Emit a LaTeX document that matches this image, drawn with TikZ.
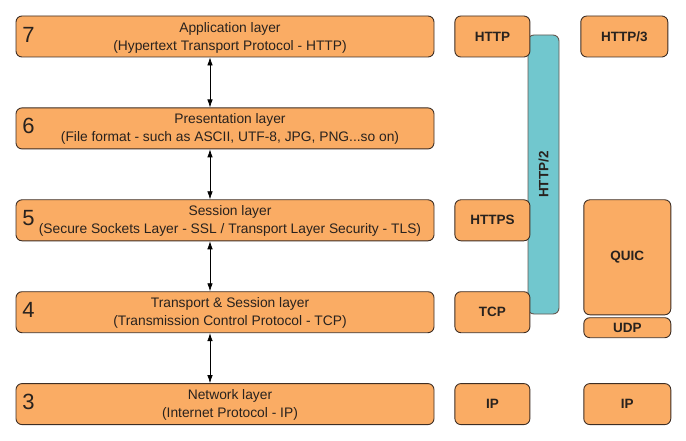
\documentclass[tikz,border=0pt]{standalone}
\usepackage{fontspec}
\setmainfont{Liberation Sans}
\usetikzlibrary{positioning, arrows.meta}
\definecolor{boxorange}{RGB}{250,172,100}
\definecolor{barteal}{RGB}{113,199,206}
\definecolor{boxedge}{RGB}{62,46,36}
\definecolor{textgray}{RGB}{40,34,30}
\begin{document}
\begin{tikzpicture}[x=1pt, y=1pt,
        layer/.style={draw=boxedge, fill=boxorange, rounded corners=6pt, line width=0.9pt, minimum width=418pt, minimum height=41pt, inner sep=0pt},
        ltext/.style={align=center, inner sep=0pt, text=textgray, font=\fontsize{13.8}{18}\selectfont},
        num/.style={anchor=west, inner sep=0pt, text=textgray, font=\fontsize{22}{22}\selectfont},
        proto/.style={draw=boxedge, fill=boxorange, rounded corners=6pt, line width=0.9pt, minimum width=75pt, minimum height=41pt, inner sep=0pt, text=textgray, font=\fontsize{13.5}{16}\selectfont\bfseries},
        wide/.style={proto, minimum width=87pt},
        bar/.style={draw=boxedge!80, fill=barteal, rounded corners=6pt, line width=0.9pt, minimum width=279pt, minimum height=31pt, inner sep=0pt, text=textgray, font=\fontsize{13.5}{16}\selectfont\bfseries},
        node distance=50pt, >={Latex[length=8pt, width=5.5pt]}]

        \useasboundingbox (0,0) rectangle (686,440);

        % Camadas
        \node (l7) [layer] at (225,403.5) {};
        \node (l6) [layer, below=of l7] {};
        \node (l5) [layer, below=of l6] {};
        \node (l4) [layer, below=of l5] {};
        \node (l3) [layer, below=of l4] {};

        % Textos das camadas
        \node (t7) [ltext] at ([xshift=5pt, yshift=-1pt]l7.center) {Application layer\\(Hypertext Transport Protocol - HTTP)};
        \node (t6) [ltext] at ([xshift=5pt, yshift=-1pt]l6.center) {Presentation layer\\(File format - such as ASCII, UTF-8, JPG, PNG...so on)};
        \node (t5) [ltext] at ([xshift=5pt, yshift=-1pt]l5.center) {Session layer\\(Secure Sockets Layer - SSL / Transport Layer Security - TLS)};
        \node (t4) [ltext] at ([xshift=5pt, yshift=-1pt]l4.center) {Transport \& Session layer\\(Transmission Control Protocol - TCP)};
        \node (t3) [ltext] at ([xshift=5pt, yshift=-1pt]l3.center) {Network layer\\(Internet Protocol - IP)};

        % Numeros
        \node (n7) [num] at ([xshift=6.5pt, yshift=2pt]l7.west) {7};
        \node (n6) [num] at ([xshift=6.5pt, yshift=2pt]l6.west) {6};
        \node (n5) [num] at ([xshift=6.5pt, yshift=2pt]l5.west) {5};
        \node (n4) [num] at ([xshift=6.5pt, yshift=2pt]l4.west) {4};
        \node (n3) [num] at ([xshift=6.5pt, yshift=2pt]l3.west) {3};

        % Setas
        \draw[<->, line width=0.7pt] ([xshift=-15pt]l7.south) -- ([xshift=-15pt]l6.north);
        \draw[<->, line width=0.7pt] ([xshift=-15pt]l6.south) -- ([xshift=-15pt]l5.north);
        \draw[<->, line width=0.7pt] ([xshift=-15pt]l5.south) -- ([xshift=-15pt]l4.north);
        \draw[<->, line width=0.7pt] ([xshift=-15pt]l4.south) -- ([xshift=-15pt]l3.north);

        % HTTP/2
        \node (http2) [bar, rotate=90] at (543.5,265.5) {HTTP/2};

        % Protocolos
        \node (http) [proto, right=20pt of l7] {HTTP};
        \node (https) [proto, right=20pt of l5] {HTTPS};
        \node (tcp) [proto, right=20pt of l4] {TCP};
        \node (ipa) [proto, right=20pt of l3] {IP};

        \node (http3) [wide, right=50pt of http] {HTTP/3};
        \node (ipb) [wide, right=53pt of ipa] {IP};
        \node (quic) [wide, minimum height=115pt, anchor=north] at (ipb.center |- l5.north) {QUIC};
        \node (udp) [wide, minimum height=20pt, below=2pt of quic] {UDP};
\end{tikzpicture}
\end{document}
